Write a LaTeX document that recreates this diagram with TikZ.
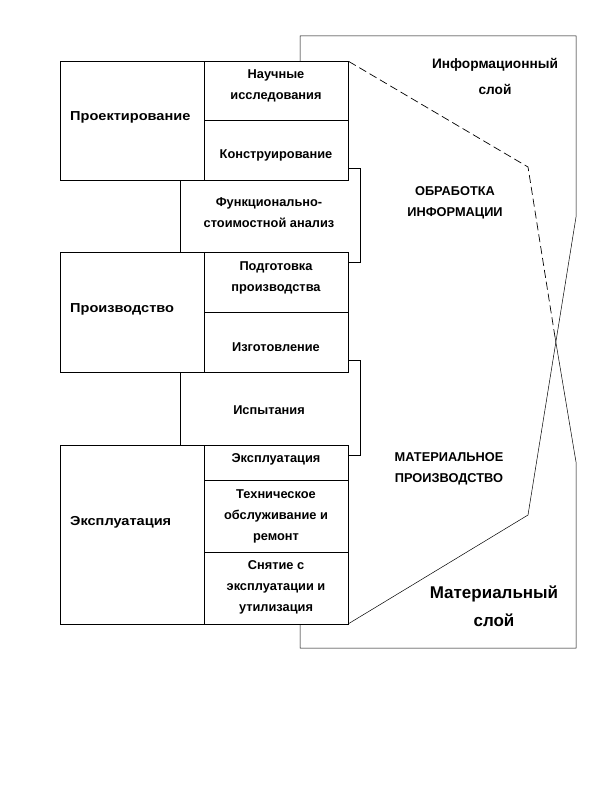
\documentclass[tikz,border=0pt]{standalone}
\usepackage{fontspec}
\setmainfont{Liberation Sans}
\newfontfamily\widefont[FakeStretch=1.12]{Liberation Sans}
\begin{document}
\begin{tikzpicture}[x=1pt,y=-1pt,
  box/.style={draw=black,line width=0.7pt,fill=white,inner sep=0pt,rectangle},
  layer/.style={draw=black,line width=0.5pt},
  txt/.style={font=\fontsize{12.8}{21}\selectfont\bfseries,align=center,inner sep=0pt},
  side/.style={font=\widefont\fontsize{13}{21}\selectfont\bfseries,inner sep=0pt,anchor=west},
  big/.style={font=\fontsize{13.7}{26}\selectfont\bfseries,align=center,inner sep=0pt},
  huge/.style={font=\fontsize{17}{28}\selectfont\bfseries,align=center,inner sep=0pt}]
\useasboundingbox (0,0) rectangle (612,792);
% layer boundaries
\coordinate (f1) at (300,61);
\coordinate (f2) at (300,36);
\coordinate (f3) at (576,36);
\coordinate (f4) at (576,217);
\coordinate (f5) at (528,515);
\coordinate (f6) at (348,624);
\coordinate (m1) at (300,624);
\coordinate (m2) at (300,648);
\coordinate (m3) at (576,648);
\coordinate (m4) at (576,462);
\coordinate (mx) at (555,337);
\coordinate (m5) at (528,167);
\coordinate (m6) at (348,61);
\draw[layer] (f1) -- (f2) -- (f3) -- (f4) -- (f5) -- (f6);
\draw[layer] (m1) -- (m2) -- (m3) -- (m4) -- (mx);
\draw[layer,line width=0.7pt,dash pattern=on 8pt off 4pt] (mx) -- (m5) -- (m6);
% middle bracket boxes
\node[box,minimum width=180pt,minimum height=94pt] (fsa) at (270,215) {};
\node[box,minimum width=180pt,minimum height=95pt] (isp) at (270,407.5) {};
% main boxes
\node[box,minimum width=144pt,minimum height=119pt] (pr) at (132,120.5) {};
\node[box,minimum width=144pt,minimum height=59pt] (ni) at (276,90.5) {};
\node[box,minimum width=144pt,minimum height=60pt] (ko) at (276,150) {};
\node[box,minimum width=144pt,minimum height=120pt] (pz) at (132,312) {};
\node[box,minimum width=144pt,minimum height=60pt] (pp) at (276,282) {};
\node[box,minimum width=144pt,minimum height=60pt] (iz) at (276,342) {};
\node[box,minimum width=144pt,minimum height=179pt] (ex) at (132,534.5) {};
\node[box,minimum width=144pt,minimum height=35pt] (e1) at (276,462.5) {};
\node[box,minimum width=144pt,minimum height=72pt] (e2) at (276,516) {};
\node[box,minimum width=144pt,minimum height=72pt] (e3) at (276,588) {};
% texts
\node[side] (tpr) at (70,117) {Проектирование};
\node[side] (tpz) at (70,309) {Производство};
\node[side] (tex) at (70,522) {Эксплуатация};
\node[txt] (tni) at (276,86) {Научные\\исследования};
\node[txt] (tko) at (276,155) {Конструирование};
\node[txt] (tfsa) at (269,213) {Функционально-\\стоимостной анализ};
\node[txt] (tpp) at (276,277.5) {Подготовка\\производства};
\node[txt] (tiz) at (276,347) {Изготовление};
\node[txt] (tisp) at (269,410) {Испытания};
\node[txt] (te1) at (276,459) {Эксплуатация};
\node[txt] (te2) at (276,516.5) {Техническое\\обслуживание и\\ремонт};
\node[txt] (te3) at (276,587.5) {Снятие с\\эксплуатации и\\утилизация};
\node[big] (info) at (495,76) {Информационный\\слой};
\node[txt] (obr) at (455,203) {ОБРАБОТКА\\ИНФОРМАЦИИ};
\node[txt] (mat) at (449,469) {МАТЕРИАЛЬНОЕ\\ПРОИЗВОДСТВО};
\node[huge] (msl) at (494,606) {Материальный\\слой};
\end{tikzpicture}
\end{document}
